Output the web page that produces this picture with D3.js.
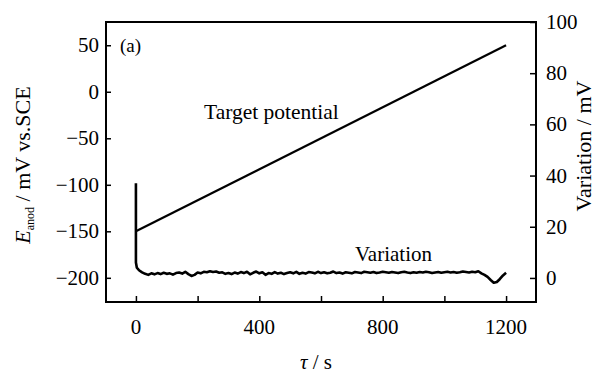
<!DOCTYPE html>
<html>
<head>
<meta charset="utf-8">
<script src="https://cdn.jsdelivr.net/npm/d3@7"></script>
<style>
  body { margin: 0; background: #fff; }
</style>
</head>
<body>
<svg id="chart" width="604" height="375" font-family="'Liberation Serif', 'DejaVu Serif', serif"></svg>
<script>
// data
const leftTicks  = [-200, -150, -100, -50, 0, 50]
const rightTicks = [0, 20, 40, 60, 80, 100]
const timeTicks  = [0, 200, 400, 600, 800, 1000, 1200]
const timeLabels = [0, 400, 800, 1200]

// target potential, mV vs. SCE (left axis)
const targetTime  = [0, 1200]
const targetValue = [-150, 50]

// variation, mV (right axis)
const varTime = [0, 0, 3,
  10, 20, 30, 40, 50, 60, 70, 80, 90, 100, 110, 120, 130, 140, 150, 160, 170, 180, 190, 200,
  210, 220, 230, 240, 250, 260, 270, 280, 290, 300, 310, 320, 330, 340, 350, 360, 370, 380, 390, 400,
  410, 420, 430, 440, 450, 460, 470, 480, 490, 500, 510, 520, 530, 540, 550, 560, 570, 580, 590, 600,
  610, 620, 630, 640, 650, 660, 670, 680, 690, 700, 710, 720, 730, 740, 750, 760, 770, 780, 790, 800,
  810, 820, 830, 840, 850, 860, 870, 880, 890, 900, 910, 920, 930, 940, 950, 960, 970, 980, 990, 1000,
  1010, 1020, 1030, 1040, 1050, 1060, 1070, 1080, 1090, 1100, 1110, 1120, 1130, 1140, 1150, 1160, 1170, 1180, 1190, 1200]
const varValue = [37, 6, 4,
  3.0, 2.2, 1.6, 1.2, 1.8, 1.4, 1.9, 1.5, 2.0, 1.6, 1.8, 1.3, 1.9, 2.1, 1.7, 2.4, 1.5, 0.8, 1.2, 2.1,
  1.8, 2.4, 2.2, 2.6, 2.3, 2.5, 2.0, 2.2, 1.6, 1.9, 1.5, 2.1, 1.7, 2.3, 1.9, 2.4, 1.4, 2.0, 2.5, 1.8,
  2.2, 1.2, 1.9, 1.6, 2.3, 1.7, 2.0, 1.5, 1.9, 2.2, 1.8, 2.4, 1.6, 2.0, 1.7, 2.3, 2.1, 1.8, 2.4, 1.9,
  2.2, 1.8, 2.0, 2.5, 1.9, 2.1, 1.7, 2.2, 2.0, 1.8, 2.3, 2.1, 1.9, 2.4, 2.2, 2.0, 2.3, 1.9, 2.1, 2.4,
  2.2, 2.0, 2.3, 2.1, 1.9, 2.2, 2.4, 2.1, 1.9, 2.2, 2.0, 2.3, 2.1, 2.4, 2.2, 1.9, 2.1, 2.3, 2.0, 2.2,
  2.4, 2.1, 2.3, 2.0, 2.2, 2.5, 2.3, 2.1, 2.4, 2.2, 2.6, 1.8, 1.2, 0.4, -0.8, -1.9, -1.6, -0.4, 1.0, 2.0]

const svg = d3.select("#chart")
const serif = "'Liberation Serif', 'DejaVu Serif', serif"

// plot box
const box = {left: 106, right: 536, top: 22, bottom: 302}

let x  = d3.scaleLinear().domain([-97, 1297]).range([box.left, box.right])
let yL = d3.scaleLinear().domain([-226, 75]).range([box.bottom, box.top])
let yR = d3.scaleLinear().domain([-9.4, 100]).range([box.bottom, box.top])

// axes, ticks pointing inward
let leftAxis = d3.axisRight(yL).tickValues(leftTicks).tickSize(5).tickFormat("")
let rightAxis = d3.axisLeft(yR).tickValues(rightTicks).tickSize(6).tickFormat("")
let bottomAxis = d3.axisTop(x).tickValues(timeTicks).tickSize(6).tickFormat("")

svg.append("g").attr("transform", "translate(" + box.left + ",0)").call(leftAxis)
svg.append("g").attr("transform", "translate(" + box.right + ",0)").call(rightAxis)
svg.append("g").attr("transform", "translate(0," + box.bottom + ")").call(bottomAxis)
svg.selectAll(".domain").remove()
svg.selectAll(".tick line").attr("stroke", "#000").attr("stroke-width", 1.5)

// frame
svg.append("rect")
  .attr("x", box.left).attr("y", box.top)
  .attr("width", box.right - box.left).attr("height", box.bottom - box.top)
  .attr("fill", "none").attr("stroke", "#000").attr("stroke-width", 2)

// tick labels
svg.append("g").selectAll("text").data(leftTicks).join("text")
  .attr("x", 99).attr("y", d => yL(d) + 7)
  .attr("text-anchor", "end").attr("font-family", serif).style("font-size", "21px")
  .text(d => d < 0 ? "\u2212" + Math.abs(d) : d)

svg.append("g").selectAll("text").data(rightTicks).join("text")
  .attr("x", 546).attr("y", d => yR(d) + 7)
  .attr("text-anchor", "start").attr("font-family", serif).style("font-size", "21px")
  .text(d => d)

svg.append("g").selectAll("text").data(timeLabels).join("text")
  .attr("x", d => x(d)).attr("y", 334)
  .attr("text-anchor", "middle").attr("font-family", serif).style("font-size", "21px")
  .text(d => d)

// lines
let line = (ys) => d3.line().x(d => x(d[0])).y(d => ys(d[1]))

svg.append("path")
  .datum(d3.zip(targetTime, targetValue))
  .attr("d", line(yL))
  .attr("fill", "none").attr("stroke", "#000").attr("stroke-width", 2.2)

svg.append("path")
  .datum(d3.zip(varTime, varValue))
  .attr("d", line(yR))
  .attr("fill", "none").attr("stroke", "#000").attr("stroke-width", 2.6)
  .attr("stroke-linejoin", "round")

// annotations
svg.append("text").attr("x", 120).attr("y", 52).attr("font-family", serif).style("font-size", "19px").text("(a)")
svg.append("text").attr("x", 204).attr("y", 119).attr("font-family", serif).style("font-size", "21.5px").text("Target potential")
svg.append("text").attr("x", 355).attr("y", 261).attr("font-family", serif).style("font-size", "21px").text("Variation")

// axis titles
let lt = svg.append("text")
  .attr("transform", "translate(30,165) rotate(-90)")
  .attr("text-anchor", "middle").attr("font-family", serif).style("font-size", "22px")
lt.append("tspan").style("font-style", "italic").text("E")
lt.append("tspan").attr("dy", 4).style("font-size", "12px").text("anod")
lt.append("tspan").attr("dy", -4).text(" / mV vs.SCE")

svg.append("text")
  .attr("transform", "translate(591,146) rotate(-90)")
  .attr("text-anchor", "middle").attr("font-family", serif).style("font-size", "22px")
  .text("Variation / mV")

let bt = svg.append("text")
  .attr("x", 316).attr("y", 369)
  .attr("text-anchor", "middle").attr("font-family", serif).style("font-size", "21px")
bt.append("tspan").style("font-style", "italic").text("\u03c4")
bt.append("tspan").text(" / s")
</script>
</body>
</html>
